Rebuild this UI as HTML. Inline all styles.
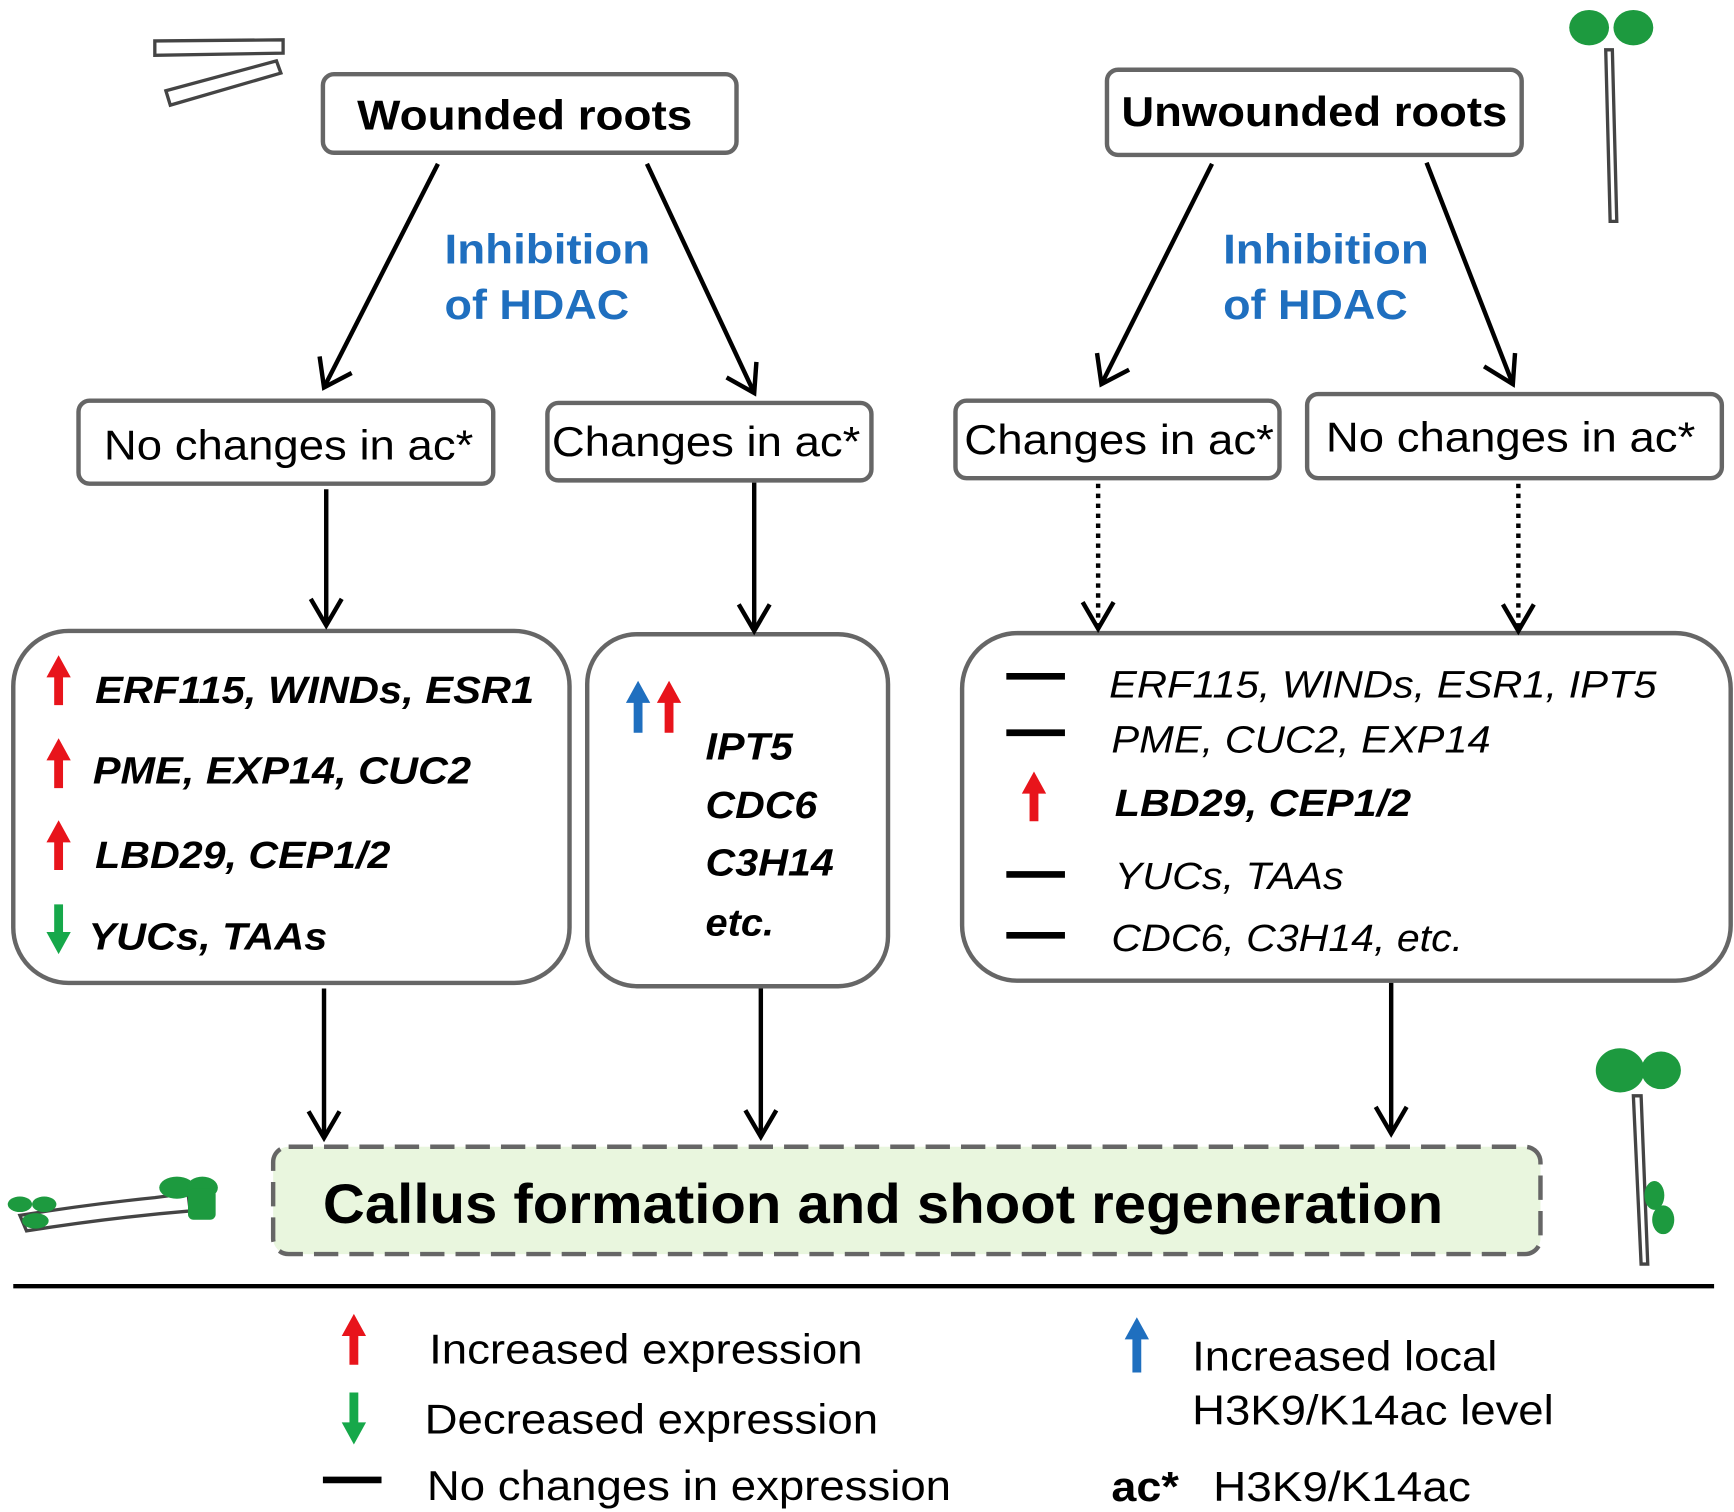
<!DOCTYPE html>
<html><head><meta charset="utf-8"><style>html,body{margin:0;padding:0;background:#fff}svg{display:block}</style></head>
<body>
<svg width="1734" height="1512" viewBox="0 0 1568 1366" preserveAspectRatio="none" xmlns="http://www.w3.org/2000/svg" font-family="Liberation Sans, Arial, sans-serif">
<g fill="none" stroke="#666" stroke-width="4">
<rect x="292" y="67" width="374" height="71" rx="10"/>
<rect x="1001" y="63" width="375" height="77" rx="10"/>
<rect x="71" y="362" width="375" height="75" rx="10"/>
<rect x="495" y="364" width="293" height="70" rx="10"/>
<rect x="864" y="362" width="293" height="70" rx="10"/>
<rect x="1182" y="356" width="375" height="76" rx="10"/>
<rect x="12" y="570" width="503" height="318" rx="50"/>
<rect x="531" y="573" width="272" height="318" rx="45"/>
<rect x="870" y="572" width="695" height="314" rx="50"/>
</g>
<rect x="247" y="1036" width="1146" height="97" rx="14" fill="#e9f6de" stroke="#666" stroke-width="4" stroke-dasharray="22,10"/>
<g font-weight="bold" font-size="38" fill="#000" lengthAdjust="spacingAndGlyphs">
<text x="323" y="117" textLength="303" lengthAdjust="spacingAndGlyphs">Wounded roots</text>
<text x="1014" y="114" textLength="349" lengthAdjust="spacingAndGlyphs">Unwounded roots</text>
</g>
<g font-weight="bold" font-size="38" fill="#1f6fbf">
<text x="402" y="238" textLength="186" lengthAdjust="spacingAndGlyphs">Inhibition</text><text x="402" y="288" textLength="167" lengthAdjust="spacingAndGlyphs">of HDAC</text>
<text x="1106" y="238" textLength="186" lengthAdjust="spacingAndGlyphs">Inhibition</text><text x="1106" y="288" textLength="167" lengthAdjust="spacingAndGlyphs">of HDAC</text>
</g>
<g font-size="38" fill="#000">
<text x="94" y="415" textLength="334" lengthAdjust="spacingAndGlyphs">No changes in ac*</text>
<text x="499" y="412" textLength="279" lengthAdjust="spacingAndGlyphs">Changes in ac*</text>
<text x="872" y="410" textLength="280" lengthAdjust="spacingAndGlyphs">Changes in ac*</text>
<text x="1199" y="408" textLength="334" lengthAdjust="spacingAndGlyphs">No changes in ac*</text>
</g>
<g stroke="#000" stroke-width="4" fill="none">
<line x1="396" y1="148" x2="293" y2="350"/><polyline points="289,322 293,350 318,337"/>
<line x1="585" y1="148" x2="682" y2="355"/><polyline points="657,341 682,355 684,327"/>
<line x1="1096" y1="148" x2="996" y2="347"/><polyline points="992,319 996,347 1021,334"/>
<line x1="1290" y1="147" x2="1368" y2="347"/><polyline points="1342,331 1368,347 1370,319"/>
<line x1="295" y1="442" x2="295" y2="565"/><polyline points="281,541 295,565 309,541"/>
<line x1="682" y1="436" x2="682" y2="570"/><polyline points="668,546 682,570 696,546"/>
<line x1="993" y1="437" x2="993" y2="566" stroke-dasharray="4,5"/><polyline points="979,544 993,568 1007,544"/>
<line x1="1373" y1="437" x2="1373" y2="568" stroke-dasharray="4,5"/><polyline points="1359,546 1373,570 1387,546"/>
<line x1="293" y1="893" x2="293" y2="1028"/><polyline points="279,1004 293,1028 307,1004"/>
<line x1="688" y1="893" x2="688" y2="1027"/><polyline points="674,1003 688,1027 702,1003"/>
<line x1="1258" y1="888" x2="1258" y2="1024"/><polyline points="1244,1000 1258,1024 1272,1000"/>
<line x1="12" y1="1162" x2="1550" y2="1162"/>
</g>
<g>
<path d="M53,592 L64,612 L57,612 L57,637 L49,637 L49,612 L42,612Z" fill="#e8141b"/>
<path d="M53,667 L64,687 L57,687 L57,712 L49,712 L49,687 L42,687Z" fill="#e8141b"/>
<path d="M53,741 L64,761 L57,761 L57,786 L49,786 L49,761 L42,761Z" fill="#e8141b"/>
<path d="M53,862 L64,842 L57,842 L57,817 L49,817 L49,842 L42,842Z" fill="#16a84a"/>
<path d="M577,615 L588,635 L581,635 L581,662 L573,662 L573,635 L566,635Z" fill="#1f6fbf"/>
<path d="M605,615 L616,635 L609,635 L609,662 L601,662 L601,635 L594,635Z" fill="#e8141b"/>
<path d="M935,697 L946,717 L939,717 L939,742 L931,742 L931,717 L924,717Z" fill="#e8141b"/>
<path d="M320,1187 L331,1207 L324,1207 L324,1233 L316,1233 L316,1207 L309,1207Z" fill="#e8141b"/>
<path d="M320,1305 L331,1285 L324,1285 L324,1258 L316,1258 L316,1285 L309,1285Z" fill="#16a84a"/>
<path d="M1028,1190 L1039,1210 L1032,1210 L1032,1240 L1024,1240 L1024,1210 L1017,1210Z" fill="#1f6fbf"/>
</g>
<g stroke="#000" stroke-width="6">
<line x1="910" y1="611" x2="963" y2="611"/><line x1="910" y1="662" x2="963" y2="662"/>
<line x1="910" y1="790" x2="963" y2="790"/><line x1="910" y1="845" x2="963" y2="845"/>
<line x1="292" y1="1337" x2="345" y2="1337"/>
</g>
<g font-weight="bold" font-style="italic" font-size="34" fill="#000">
<text x="86" y="635" textLength="397" lengthAdjust="spacingAndGlyphs">ERF115, WINDs, ESR1</text>
<text x="84" y="708" textLength="342" lengthAdjust="spacingAndGlyphs">PME, EXP14, CUC2</text>
<text x="86" y="784" textLength="267" lengthAdjust="spacingAndGlyphs">LBD29, CEP1/2</text>
<text x="80" y="858" textLength="216" lengthAdjust="spacingAndGlyphs">YUCs, TAAs</text>
<text x="638" y="686" textLength="79" lengthAdjust="spacingAndGlyphs">IPT5</text>
<text x="638" y="739" textLength="101" lengthAdjust="spacingAndGlyphs">CDC6</text>
<text x="638" y="791" textLength="116" lengthAdjust="spacingAndGlyphs">C3H14</text>
<text x="638" y="845" textLength="62" lengthAdjust="spacingAndGlyphs">etc.</text>
<text x="1008" y="737" textLength="268" lengthAdjust="spacingAndGlyphs">LBD29, CEP1/2</text>
</g>
<g font-style="italic" font-size="34" fill="#000">
<text x="1003" y="630" textLength="495" lengthAdjust="spacingAndGlyphs">ERF115, WINDs, ESR1, IPT5</text>
<text x="1005" y="680" textLength="343" lengthAdjust="spacingAndGlyphs">PME, CUC2, EXP14</text>
<text x="1008" y="803" textLength="207" lengthAdjust="spacingAndGlyphs">YUCs, TAAs</text>
<text x="1005" y="859" textLength="318" lengthAdjust="spacingAndGlyphs">CDC6, C3H14, etc.</text>
</g>
<text x="292" y="1105" font-weight="bold" font-size="50" fill="#000" textLength="1013" lengthAdjust="spacingAndGlyphs">Callus formation and shoot regeneration</text>
<g font-size="38" fill="#000">
<text x="388" y="1232" textLength="392" lengthAdjust="spacingAndGlyphs">Increased expression</text>
<text x="384" y="1295" textLength="410" lengthAdjust="spacingAndGlyphs">Decreased expression</text>
<text x="386" y="1355" textLength="474" lengthAdjust="spacingAndGlyphs">No changes in expression</text>
<text x="1078" y="1238" textLength="276" lengthAdjust="spacingAndGlyphs">Increased local</text>
<text x="1078" y="1287" textLength="327" lengthAdjust="spacingAndGlyphs">H3K9/K14ac level</text>
<text x="1005" y="1356" font-weight="bold" textLength="61" lengthAdjust="spacingAndGlyphs">ac*</text>
<text x="1097" y="1356" textLength="233" lengthAdjust="spacingAndGlyphs">H3K9/K14ac</text>
</g>
<g fill="#fff" stroke="#444" stroke-width="3">
<path d="M140,37 L256,36 L256,48 L140,50Z"/>
<path d="M150,82 L250,55 L254,66 L154,95Z"/>
<path d="M1452,45 L1458,45 L1462,200 L1456,200Z"/>
<path d="M1477,990 L1484,990 L1490,1142 L1484,1142Z"/>
<path d="M18,1098 Q80,1088 140,1082 L170,1078 L172,1094 Q100,1100 24,1112Z"/>
</g>
<g fill="#1d9a3f">
<ellipse cx="1437" cy="25" rx="18" ry="16"/><ellipse cx="1477" cy="25" rx="18" ry="16"/>
<ellipse cx="1465" cy="967" rx="22" ry="20"/><ellipse cx="1502" cy="967" rx="18" ry="17"/>
<ellipse cx="1496" cy="1080" rx="9" ry="13"/><ellipse cx="1504" cy="1102" rx="10" ry="13"/>
<ellipse cx="18" cy="1088" rx="11" ry="7"/><ellipse cx="40" cy="1088" rx="11" ry="7"/><ellipse cx="32" cy="1103" rx="12" ry="7"/>
<ellipse cx="160" cy="1073" rx="16" ry="10"/><ellipse cx="183" cy="1073" rx="14" ry="10"/><rect x="170" y="1074" width="25" height="28" rx="5"/>
</g>
</svg>
</body></html>
